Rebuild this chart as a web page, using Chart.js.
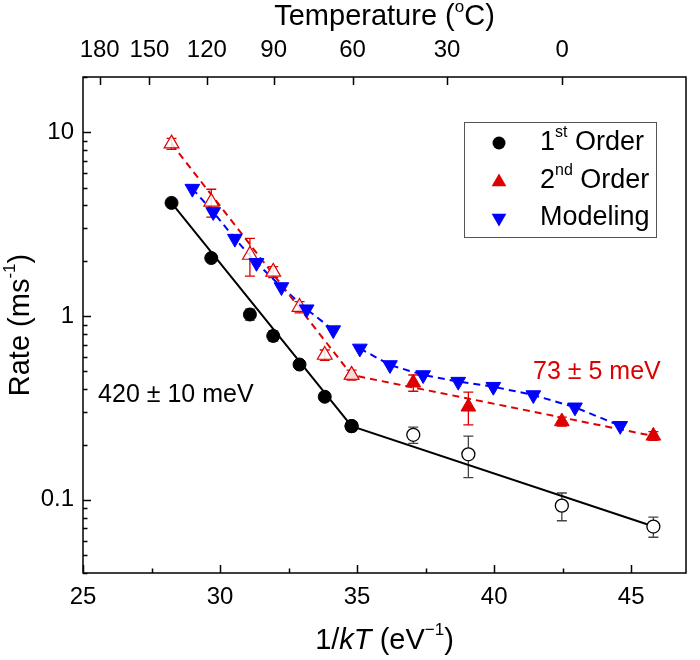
<!DOCTYPE html>
<html><head><meta charset="utf-8">
<script src="https://cdn.jsdelivr.net/npm/chart.js@4/dist/chart.umd.min.js"></script>
<style>html,body{margin:0;padding:0;background:#fff}canvas{display:block}</style>
</head><body>
<canvas id="c" width="700" height="660"></canvas>
<script>
// ---- data ----
const invKT        = [28.23, 29.68, 31.09, 31.94, 32.90, 33.82, 34.80, 37.05, 39.06, 42.47, 45.81];
const firstOrder   = [4.13, 2.07, 1.02, 0.78, 0.545, 0.364, 0.252, 0.226, 0.177, 0.093, 0.0716];
const firstErr     = [0.12, 0.08, 0.07, 0.05, 0.02, 0.012, 0.01, 0.023, 0.045, 0.016, 0.009];
const secondOrder  = [8.68, 4.18, 2.15, 1.74, 1.12, 0.614, 0.478, 0.434, 0.321, 0.267, 0.223];
const secondErr    = [0.6, 0.72, 0.5, 0.12, 0.08, 0.04, 0.03, 0.044, 0.065, 0.015, 0.012];
const modelX       = [28.99, 29.75, 30.54, 31.33, 32.24, 33.16, 34.13, 35.10, 36.20, 37.41, 38.69, 39.97, 41.43, 42.95, 44.60];
const modelY       = [4.94, 3.69, 2.64, 1.95, 1.44, 1.09, 0.839, 0.667, 0.542, 0.478, 0.44, 0.413, 0.372, 0.319, 0.253];
const fitFirstX    = [28.23, 34.80, 45.85];
const fitFirstY    = [4.13, 0.252, 0.0714];
const fitSecondX   = [28.23, 34.80, 45.85];
const fitSecondY   = [8.68, 0.478, 0.222];
const highTLast    = 6;   // points 0..6 : high-temperature regime
const modelBreak   = 7;   // modeling fit split before this index
const tempTicksC   = [180, 150, 120, 90, 60, 30, 0];
const xTicks       = [25, 30, 35, 40, 45];
const yTicks       = [0.1, 1, 10];
const seriesNames  = ['1st Order', '2nd Order', 'Modeling'];

const kB = 8.617333e-5;
const RED = 'rgb(222,0,0)', BLUE = 'rgb(0,0,255)';
const FONT = '"Liberation Sans", Arial, sans-serif';

const pts = (xs, ys, from, to) => xs.slice(from, to).map((x, i) => ({x, y: ys[from + i]}));

const datasets = [
  {label:'fit1', data: pts(fitFirstX, fitFirstY, 0), showLine:true, borderColor:'#000', borderWidth:2, pointRadius:0, order:5},
  {label:'fit2', data: pts(fitSecondX, fitSecondY, 0), showLine:true, borderColor:RED, borderWidth:2, borderDash:[7,5], pointRadius:0, order:5},
  {label:'model a', data: pts(modelX, modelY, 0, modelBreak), showLine:true, borderColor:BLUE, borderWidth:2, borderDash:[7,5], pointRadius:0, order:5},
  {label:'model b', data: pts(modelX, modelY, modelBreak), showLine:true, borderColor:BLUE, borderWidth:2, borderDash:[7,5], pointRadius:0, order:5},
  {label:'1st open', data: pts(invKT, firstOrder, highTLast), pointStyle:'circle', pointRadius:6.5, backgroundColor:'#fff', borderColor:'#000', borderWidth:1.3, order:2},
  {label:'1st filled', data: pts(invKT, firstOrder, 0, highTLast + 1), pointStyle:'circle', pointRadius:6.5, backgroundColor:'#000', borderColor:'#000', borderWidth:1, order:1},
  {label:'2nd filled', data: pts(invKT, secondOrder, highTLast), pointStyle:'triangle', pointRadius:8.5, backgroundColor:RED, borderColor:RED, borderWidth:1, order:2},
  {label:'2nd open', data: pts(invKT, secondOrder, 0, highTLast + 1), pointStyle:'triangle', pointRadius:8.5, backgroundColor:'rgba(255,255,255,0.85)', borderColor:RED, borderWidth:1.2, order:1},
  {label:'Modeling', data: pts(modelX, modelY, 0), pointStyle:'triangle', rotation:180, pointRadius:8.5, backgroundColor:BLUE, borderColor:BLUE, borderWidth:1, order:0},
];

function richText(ctx, parts, x, y, align) {
  let w = 0;
  parts.forEach(p => { ctx.font = p.font; p.w = ctx.measureText(p.t).width; w += p.w; });
  let cx = align === 'center' ? x - w / 2 : (align === 'right' ? x - w : x);
  ctx.textAlign = 'left'; ctx.textBaseline = 'middle';
  parts.forEach(p => { ctx.font = p.font; ctx.fillText(p.t, cx, y + (p.dy || 0)); cx += p.w; });
}
const F = (s, st) => (st ? st + ' ' : '') + s + 'px ' + FONT;

function marker(ctx, kind, x, y) {
  ctx.save();
  if (kind === 0) { ctx.fillStyle = '#000'; ctx.beginPath(); ctx.arc(x, y, 6.5, 0, Math.PI * 2); ctx.fill(); }
  else {
    const r = 8.5, s = kind === 1 ? 1 : -1;
    ctx.fillStyle = kind === 1 ? RED : BLUE;
    ctx.beginPath();
    ctx.moveTo(x, y - s * r);
    ctx.lineTo(x + r * Math.sin(2 * Math.PI / 3), y + s * r / 2);
    ctx.lineTo(x - r * Math.sin(2 * Math.PI / 3), y + s * r / 2);
    ctx.closePath(); ctx.fill();
  }
  ctx.restore();
}

const deco = {
  id: 'deco',
  beforeDatasetsDraw(chart) {
    const ctx = chart.ctx, xs = chart.scales.x, ys = chart.scales.y;
    ctx.save(); ctx.lineWidth = 1.3;
    const bars = (vals, errs, color) => {
      ctx.strokeStyle = color;
      invKT.forEach((v, i) => {
        const e = errs[i]; if (!e) return;
        const px = xs.getPixelForValue(v), p1 = ys.getPixelForValue(vals[i] - e), p2 = ys.getPixelForValue(vals[i] + e);
        ctx.beginPath();
        ctx.moveTo(px, p1); ctx.lineTo(px, p2);
        ctx.moveTo(px - 5, p1); ctx.lineTo(px + 5, p1);
        ctx.moveTo(px - 5, p2); ctx.lineTo(px + 5, p2);
        ctx.stroke();
      });
    };
    bars(firstOrder, firstErr, '#444');
    bars(secondOrder, secondErr, RED);
    ctx.restore();
  },
  afterDraw(chart) {
    const ctx = chart.ctx, {left, right, top, bottom} = chart.chartArea;
    const xs = chart.scales.x, x2 = chart.scales.x2, ys = chart.scales.y;
    ctx.save();
    ctx.strokeStyle = '#000'; ctx.lineWidth = 1.5;
    ctx.strokeRect(left, top, right - left, bottom - top);
    ctx.beginPath();
    [0.01, 0.1, 1, 10].forEach(d => {
      for (let m = 1; m <= 9; m++) {
        const v = m * d; if (v < ys.min || v > ys.max) continue;
        const py = Math.round(ys.getPixelForValue(v)) + 0.5, len = m === 1 ? 8 : 4.5;
        ctx.moveTo(left, py); ctx.lineTo(left + len, py);
      }
    });
    for (let v = 25; v <= 47; v += 2.5) {
      const px = Math.round(xs.getPixelForValue(v)) + 0.5, len = v % 5 === 0 ? 8 : 4.5;
      ctx.moveTo(px, bottom); ctx.lineTo(px, bottom - len);
    }
    x2.ticks.forEach(t => {
      const px = Math.round(x2.getPixelForValue(t.value)) + 0.5;
      ctx.moveTo(px, top); ctx.lineTo(px, top + 8);
    });
    ctx.stroke();

    // axis titles
    ctx.fillStyle = '#000';
    const cx = (left + right) / 2;
    richText(ctx, [{t:'Temperature (', font:F(29)}, {t:'o', font:F(17), dy:-10}, {t:'C)', font:F(29)}], cx, 17, 'center');
    richText(ctx, [{t:'1/', font:F(29)}, {t:'kT', font:F(29,'italic')}, {t:' (eV', font:F(29)}, {t:'\u22121', font:F(17), dy:-11}, {t:')', font:F(29)}], cx, 641, 'center');
    ctx.save();
    ctx.translate(21, (top + bottom) / 2); ctx.rotate(-Math.PI / 2);
    richText(ctx, [{t:'Rate (ms', font:F(29)}, {t:'-1', font:F(17), dy:-11}, {t:')', font:F(29)}], 0, 0, 'center');
    ctx.restore();

    // legend
    ctx.lineWidth = 1; ctx.strokeStyle = '#555';
    ctx.strokeRect(464.5, 122.5, 192, 115);
    const rows = [143, 181, 218];
    marker(ctx, 0, 499, rows[0]); marker(ctx, 1, 499, rows[1] + 1); marker(ctx, 2, 499, rows[2]);
    ctx.fillStyle = '#000';
    richText(ctx, [{t:'1', font:F(27)}, {t:'st', font:F(16), dy:-10}, {t:' Order', font:F(27)}], 540, rows[0], 'left');
    richText(ctx, [{t:'2', font:F(27)}, {t:'nd', font:F(16), dy:-10}, {t:' Order', font:F(27)}], 540, rows[1], 'left');
    richText(ctx, [{t:seriesNames[2], font:F(27)}], 540, rows[2], 'left');

    // annotations
    richText(ctx, [{t:'420 \u00b1 10 meV', font:F(25)}], xs.getPixelForValue(25.55), ys.getPixelForValue(0.37), 'left');
    ctx.fillStyle = RED;
    richText(ctx, [{t:'73 \u00b1 5 meV', font:F(25)}], xs.getPixelForValue(41.42), ys.getPixelForValue(0.497), 'left');
    ctx.restore();
  }
};

new Chart(document.getElementById('c'), {
  type: 'scatter',
  data: { datasets },
  options: {
    responsive: false, animation: false, devicePixelRatio: 1,
    layout: { padding: { left: 0, right: 14, top: 0, bottom: 0 } },
    plugins: { legend: { display: false }, tooltip: { enabled: false } },
    scales: {
      x: {
        type: 'linear', position: 'bottom', min: 25, max: 47,
        grid: { display: false, drawTicks: false }, border: { display: false },
        afterFit(s) { s.height = 87; },
        afterBuildTicks(s) { s.ticks = xTicks.map(v => ({ value: v })); },
        ticks: { autoSkip: false, maxRotation: 0, padding: 10, color: '#000', font: { size: 24, family: FONT } }
      },
      x2: {
        type: 'linear', position: 'top', min: 25, max: 47,
        grid: { display: false, drawTicks: false }, border: { display: false },
        afterFit(s) { s.height = 77; },
        afterBuildTicks(s) { s.ticks = tempTicksC.map(t => ({ value: 1 / (kB * (t + 273.15)) })); },
        ticks: { autoSkip: false, maxRotation: 0, padding: 12, color: '#000', font: { size: 24, family: FONT },
          callback: v => String(Math.round(1 / (kB * v) - 273.15)) }
      },
      y: {
        type: 'logarithmic', min: 0.04, max: 20,
        grid: { display: false, drawTicks: false }, border: { display: false },
        afterFit(s) { s.width = 83; },
        afterBuildTicks(s) { s.ticks = yTicks.map(v => ({ value: v })); },
        ticks: { autoSkip: false, padding: 9, color: '#000', font: { size: 24, family: FONT }, callback: v => String(v) }
      }
    }
  },
  plugins: [deco]
});
</script>
</body></html>
